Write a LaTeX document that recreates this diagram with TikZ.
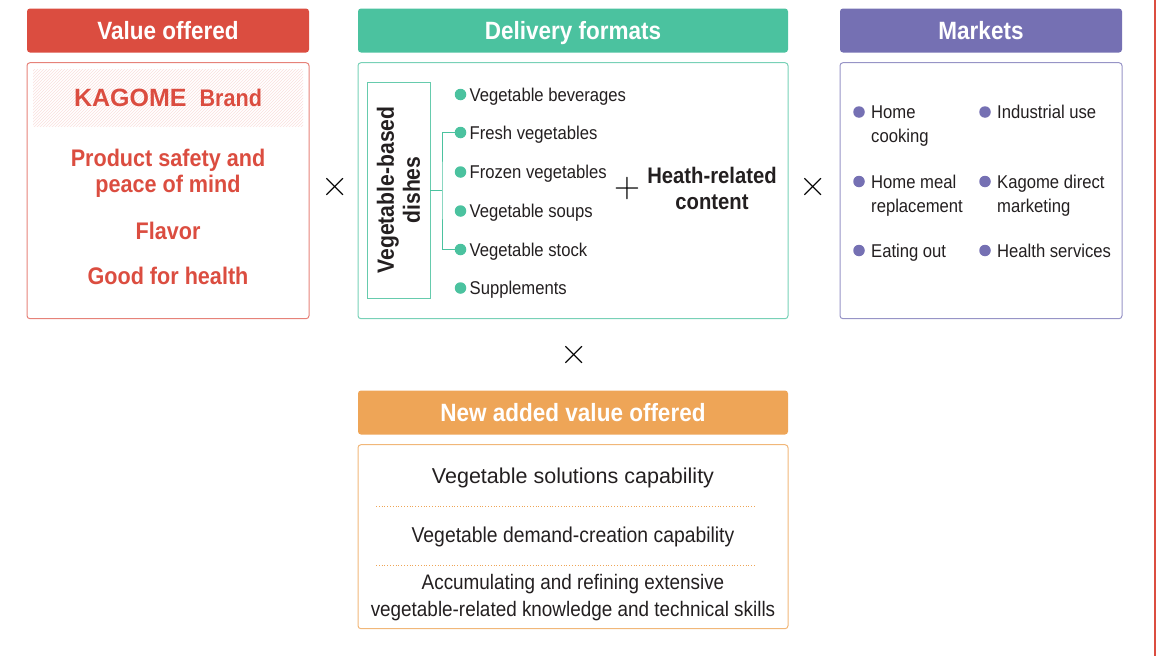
\documentclass[tikz,border=0pt]{standalone}
\usepackage{fontspec}
\setsansfont{Liberation Sans}[FakeStretch=0.9]
\newfontfamily\widefont{Liberation Sans}
\renewcommand{\familydefault}{\sfdefault}
\usetikzlibrary{positioning}
\usetikzlibrary{patterns}
\definecolor{valred}{HTML}{DB4D40}
\definecolor{delgreen}{HTML}{4BC29F}
\definecolor{mktpurple}{HTML}{7570B3}
\definecolor{neworange}{HTML}{EEA557}
\definecolor{txtgray}{HTML}{231F20}
\begin{document}
\begin{tikzpicture}
  [x=1pt,y=-1pt,
  head/.style={rounded corners=3pt,inner sep=0pt,minimum height=44pt,text height=18pt,text depth=0pt,text=white,font=\fontsize{25}{28}\selectfont\bfseries},
  panel/.style={draw,rounded corners=3pt,line width=1pt,inner sep=0pt},
  greendot/.style={circle,fill=delgreen,inner sep=0pt,minimum size=11.5pt},
  purpledot/.style={circle,fill=mktpurple,inner sep=0pt,minimum size=11.5pt},
  item/.style={anchor=west,inner sep=0pt,text height=13.2pt,text depth=0pt,text=txtgray,font=\fontsize{18.5}{23.5}\selectfont},
  mitem/.style={anchor=north west,inner sep=0pt,align=left,text=txtgray,font=\fontsize{18.5}{24}\selectfont},
  redtext/.style={text=valred,align=center,inner sep=0pt,font=\fontsize{24}{26}\selectfont\bfseries},
  captext/.style={text=txtgray,align=center,inner sep=0pt,font=\fontsize{21.5}{27}\selectfont},
  times/.style={inner sep=0pt,font=\rmfamily\fontsize{38}{38}\selectfont},
  sep/.style={neworange,dotted,line width=0.8pt}]

  \useasboundingbox (0,0) rectangle (1157,656);

  \node[head,fill=valred,minimum width=282pt] (100) at (168,30.5) {Value offered};
  \node[panel,draw=valred!70,minimum width=282pt,minimum height=256pt,below=9.5pt of 100] (101) {};
  \node[pattern=north east lines,pattern color=valred!18,inner sep=0pt,minimum width=270pt,minimum height=57pt] (102) at (168,97.5)
    {\textcolor{valred}{\widefont\fontsize{25}{28}\selectfont\bfseries KAGOME}\hspace{13pt}\textcolor{valred}{\fontsize{24}{28}\selectfont\bfseries Brand}};
  \node[redtext] (103) at (168,173) {Product safety and\\peace of mind};
  \node[redtext] (104) at (168,231) {Flavor};
  \node[redtext] (105) at (168,276) {Good for health};

  \node[head,fill=delgreen,minimum width=430pt] (200) at (573,30.5) {Delivery formats};
  \node[panel,draw=delgreen!75,minimum width=430pt,minimum height=256pt,below=9.5pt of 200] (201) {};
  \node[draw=delgreen!85,line width=0.8pt,rotate=90,align=center,inner sep=0pt,minimum width=216pt,minimum height=63pt,text=txtgray,font=\fontsize{23.5}{26}\selectfont\bfseries] (dish) at (398.5,190) {Vegetable-based\\dishes};

  \node[greendot] (211) at (460.5,94.5) {};
  \node[greendot] (212) at (460.5,132.5) {};
  \node[greendot] (213) at (460.5,172) {};
  \node[greendot] (214) at (460.5,211) {};
  \node[greendot] (215) at (460.5,249.5) {};
  \node[greendot] (216) at (460.5,288) {};
  \node[item,right=3pt of 211] (221) {Vegetable beverages};
  \node[item,right=3pt of 212] (222) {Fresh vegetables};
  \node[item,right=3pt of 213] (223) {Frozen vegetables};
  \node[item,right=3pt of 214] (224) {Vegetable soups};
  \node[item,right=3pt of 215] (225) {Vegetable stock};
  \node[item,right=3pt of 216] (226) {Supplements};

  \coordinate (br) at (442,190);
  \draw [delgreen,line width=0.8pt] (dish.south) -- (br);
  \draw [delgreen,line width=0.8pt] (212.west) -| (br) |- (215.west);

  \node[inner sep=0pt,font=\rmfamily\fontsize{36}{36}\selectfont] (plus) at (627,189) {+};
  \node[align=center,inner sep=0pt,text=txtgray,font=\fontsize{22.5}{26}\selectfont\bfseries] (230) at (712,188) {Heath-related\\content};

  \node[head,fill=mktpurple,minimum width=282pt] (300) at (981,30.5) {Markets};
  \node[panel,draw=mktpurple!75,minimum width=282pt,minimum height=256pt,below=9.5pt of 300] (301) {};
  \node[purpledot] (311) at (859,112) {};
  \node[purpledot] (312) at (859,181.5) {};
  \node[purpledot] (313) at (859,250.5) {};
  \node[purpledot] (314) at (985,112) {};
  \node[purpledot] (315) at (985,181.5) {};
  \node[purpledot] (316) at (985,250.5) {};
  \node[mitem] (321) at (871,105.3) {Home\\cooking};
  \node[mitem] (322) at (871,174.8) {Home meal\\replacement};
  \node[item,right=6pt of 313] (323) {Eating out};
  \node[item,right=6pt of 314] (324) {Industrial use};
  \node[mitem] (325) at (997,174.8) {Kagome direct\\marketing};
  \node[item,right=6pt of 316] (326) {Health services};

  \node[times] (x1) at (335,187) {×};
  \node[times] (x2) at (813,187) {×};
  \node[times] (x3) at (574,355) {×};

  \node[head,fill=neworange,minimum width=430pt] (400) at (573,412.5) {New added value offered};
  \node[panel,draw=neworange!80,minimum width=430pt,minimum height=184pt,below=9.5pt of 400] (401) {};
  \node[captext] (411) at (573,478) {\widefont Vegetable solutions capability};
  \node[captext] (412) at (573,537) {Vegetable demand-creation capability};
  \node[captext,font=\fontsize{21}{27}\selectfont] (413) at (573,598) {Accumulating and refining extensive\\vegetable-related knowledge and technical skills};
  \coordinate (s1) at (376,506);
  \coordinate (s2) at (755,506);
  \coordinate (s3) at (376,565.5);
  \coordinate (s4) at (755,565.5);
  \draw [sep] (s1) -- (s2);
  \draw [sep] (s3) -- (s4);

  \coordinate (r1) at (1155,0);
  \coordinate (r2) at (1155,656);
  \draw [valred,line width=2pt] (r1) -- (r2);

\end{tikzpicture}
\end{document}
